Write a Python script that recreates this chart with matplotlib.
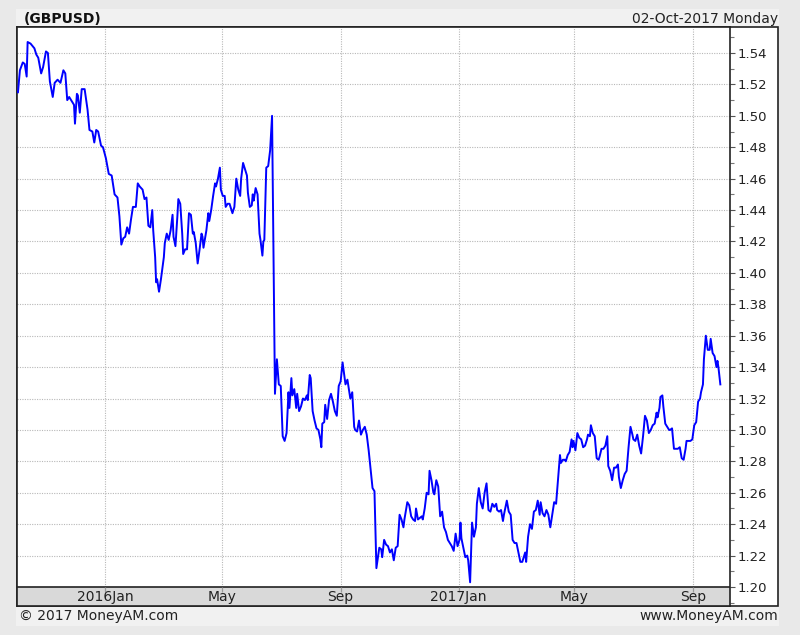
import pandas as pd
import matplotlib
matplotlib.use('Agg')
import matplotlib.pyplot as plt
import matplotlib.transforms as mtransforms
from matplotlib.patches import Rectangle
from matplotlib.ticker import MultipleLocator, FormatStrFormatter

#%% Data
dates = [
    '2015-10-03', '2015-10-05', '2015-10-08', '2015-10-10', '2015-10-12', '2015-10-13', '2015-10-16', '2015-10-20',
    '2015-10-22', '2015-10-24', '2015-10-27', '2015-10-29', '2015-11-01', '2015-11-03', '2015-11-05', '2015-11-08',
    '2015-11-10', '2015-11-13', '2015-11-16', '2015-11-19', '2015-11-21', '2015-11-23', '2015-11-25', '2015-11-28',
    '2015-11-30', '2015-12-01', '2015-12-03', '2015-12-04', '2015-12-06', '2015-12-08', '2015-12-11', '2015-12-14',
    '2015-12-16', '2015-12-19', '2015-12-21', '2015-12-23', '2015-12-25', '2015-12-28', '2015-12-30', '2016-01-02',
    '2016-01-05', '2016-01-08', '2016-01-11', '2016-01-14', '2016-01-16', '2016-01-18', '2016-01-20', '2016-01-22',
    '2016-01-24', '2016-01-26', '2016-01-28', '2016-01-30', '2016-02-02', '2016-02-04', '2016-02-06', '2016-02-09',
    '2016-02-11', '2016-02-13', '2016-02-15', '2016-02-17', '2016-02-19', '2016-02-20', '2016-02-22', '2016-02-23',
    '2016-02-24', '2016-02-26', '2016-02-28', '2016-03-02', '2016-03-03', '2016-03-05', '2016-03-07', '2016-03-09',
    '2016-03-11', '2016-03-12', '2016-03-14', '2016-03-16', '2016-03-17', '2016-03-19', '2016-03-21', '2016-03-22',
    '2016-03-24', '2016-03-26', '2016-03-28', '2016-03-30', '2016-04-01', '2016-04-02', '2016-04-04', '2016-04-06',
    '2016-04-08', '2016-04-10', '2016-04-11', '2016-04-12', '2016-04-15', '2016-04-17', '2016-04-18', '2016-04-20',
    '2016-04-22', '2016-04-24', '2016-04-25', '2016-04-27', '2016-04-29', '2016-04-30', '2016-05-02', '2016-05-04',
    '2016-05-05', '2016-05-07', '2016-05-09', '2016-05-12', '2016-05-14', '2016-05-16', '2016-05-18', '2016-05-20',
    '2016-05-21', '2016-05-23', '2016-05-25', '2016-05-27', '2016-05-28', '2016-05-30', '2016-06-01', '2016-06-02',
    '2016-06-03', '2016-06-05', '2016-06-07', '2016-06-09', '2016-06-10', '2016-06-12', '2016-06-13', '2016-06-14',
    '2016-06-16', '2016-06-18', '2016-06-20', '2016-06-22', '2016-06-25', '2016-06-27', '2016-06-29', '2016-07-01',
    '2016-07-03', '2016-07-05', '2016-07-07', '2016-07-09', '2016-07-10', '2016-07-12', '2016-07-13', '2016-07-15',
    '2016-07-17', '2016-07-18', '2016-07-20', '2016-07-22', '2016-07-24', '2016-07-26', '2016-07-28', '2016-07-29',
    '2016-07-31', '2016-08-01', '2016-08-03', '2016-08-05', '2016-08-07', '2016-08-09', '2016-08-11', '2016-08-12',
    '2016-08-13', '2016-08-15', '2016-08-16', '2016-08-18', '2016-08-20', '2016-08-22', '2016-08-24', '2016-08-26',
    '2016-08-28', '2016-08-30', '2016-09-01', '2016-09-03', '2016-09-05', '2016-09-06', '2016-09-08', '2016-09-11',
    '2016-09-13', '2016-09-15', '2016-09-16', '2016-09-18', '2016-09-20', '2016-09-22', '2016-09-24', '2016-09-26',
    '2016-09-28', '2016-09-30', '2016-10-02', '2016-10-04', '2016-10-06', '2016-10-08', '2016-10-11', '2016-10-13',
    '2016-10-14', '2016-10-16', '2016-10-18', '2016-10-20', '2016-10-22', '2016-10-24', '2016-10-26', '2016-10-28',
    '2016-10-30', '2016-11-01', '2016-11-03', '2016-11-05', '2016-11-06', '2016-11-09', '2016-11-11', '2016-11-13',
    '2016-11-15', '2016-11-17', '2016-11-18', '2016-11-20', '2016-11-22', '2016-11-24', '2016-11-25', '2016-11-27',
    '2016-11-29', '2016-12-01', '2016-12-02', '2016-12-04', '2016-12-06', '2016-12-07', '2016-12-09', '2016-12-11',
    '2016-12-13', '2016-12-15', '2016-12-17', '2016-12-19', '2016-12-21', '2016-12-23', '2016-12-25', '2016-12-27',
    '2016-12-29', '2016-12-31', '2017-01-02', '2017-01-03', '2017-01-04', '2017-01-06', '2017-01-08', '2017-01-10',
    '2017-01-11', '2017-01-13', '2017-01-15', '2017-01-17', '2017-01-19', '2017-01-20', '2017-01-22', '2017-01-24',
    '2017-01-26', '2017-01-28', '2017-01-30', '2017-02-01', '2017-02-03', '2017-02-05', '2017-02-07', '2017-02-09',
    '2017-02-10', '2017-02-12', '2017-02-14', '2017-02-16', '2017-02-17', '2017-02-20', '2017-02-22', '2017-02-24',
    '2017-02-26', '2017-02-28', '2017-03-02', '2017-03-04', '2017-03-06', '2017-03-08', '2017-03-11', '2017-03-12',
    '2017-03-14', '2017-03-16', '2017-03-18', '2017-03-20', '2017-03-22', '2017-03-24', '2017-03-26', '2017-03-27',
    '2017-03-29', '2017-03-31', '2017-04-02', '2017-04-04', '2017-04-06', '2017-04-08', '2017-04-10', '2017-04-12',
    '2017-04-16', '2017-04-17', '2017-04-19', '2017-04-21', '2017-04-22', '2017-04-24', '2017-04-26', '2017-04-28',
    '2017-04-29', '2017-04-30', '2017-05-02', '2017-05-04', '2017-05-06', '2017-05-08', '2017-05-10', '2017-05-12',
    '2017-05-14', '2017-05-15', '2017-05-17', '2017-05-18', '2017-05-20', '2017-05-22', '2017-05-24', '2017-05-26',
    '2017-05-27', '2017-05-29', '2017-05-31', '2017-06-02', '2017-06-04', '2017-06-05', '2017-06-07', '2017-06-09',
    '2017-06-11', '2017-06-13', '2017-06-15', '2017-06-16', '2017-06-18', '2017-06-20', '2017-06-22', '2017-06-24',
    '2017-06-26', '2017-06-28', '2017-06-30', '2017-07-01', '2017-07-03', '2017-07-05', '2017-07-07', '2017-07-09',
    '2017-07-11', '2017-07-13', '2017-07-15', '2017-07-17', '2017-07-19', '2017-07-21', '2017-07-23', '2017-07-25',
    '2017-07-26', '2017-07-28', '2017-07-29', '2017-07-31', '2017-08-01', '2017-08-03', '2017-08-05', '2017-08-07',
    '2017-08-08', '2017-08-10', '2017-08-12', '2017-08-14', '2017-08-16', '2017-08-18', '2017-08-20', '2017-08-22',
    '2017-08-24', '2017-08-25', '2017-08-27', '2017-08-29', '2017-08-31', '2017-09-02', '2017-09-04', '2017-09-06',
    '2017-09-08', '2017-09-09', '2017-09-11', '2017-09-12', '2017-09-14', '2017-09-16', '2017-09-18', '2017-09-19',
    '2017-09-21', '2017-09-23', '2017-09-25', '2017-09-26', '2017-09-27', '2017-09-29',
]

rates = [
    1.515, 1.529, 1.534, 1.533, 1.525, 1.547, 1.546, 1.543,
    1.539, 1.537, 1.527, 1.531, 1.541, 1.540, 1.522, 1.512,
    1.521, 1.523, 1.521, 1.529, 1.527, 1.510, 1.512, 1.509,
    1.507, 1.495, 1.514, 1.513, 1.502, 1.517, 1.517, 1.504,
    1.491, 1.490, 1.483, 1.491, 1.490, 1.481, 1.480, 1.473,
    1.463, 1.462, 1.450, 1.448, 1.436, 1.418, 1.422, 1.423,
    1.429, 1.425, 1.434, 1.442, 1.442, 1.457, 1.455, 1.453,
    1.447, 1.448, 1.430, 1.429, 1.440, 1.427, 1.410, 1.394,
    1.396, 1.388, 1.396, 1.410, 1.419, 1.425, 1.421, 1.427,
    1.437, 1.423, 1.417, 1.436, 1.447, 1.444, 1.425, 1.412,
    1.415, 1.415, 1.438, 1.437, 1.425, 1.426, 1.419, 1.406,
    1.415, 1.425, 1.423, 1.416, 1.427, 1.438, 1.433, 1.440,
    1.449, 1.457, 1.455, 1.460, 1.467, 1.453, 1.449, 1.449,
    1.442, 1.444, 1.444, 1.438, 1.442, 1.460, 1.453, 1.449,
    1.460, 1.470, 1.466, 1.462, 1.451, 1.442, 1.443, 1.450,
    1.446, 1.454, 1.450, 1.425, 1.421, 1.411, 1.420, 1.421,
    1.467, 1.468, 1.478, 1.500, 1.323, 1.345, 1.329, 1.328,
    1.296, 1.293, 1.298, 1.324, 1.314, 1.333, 1.322, 1.326,
    1.314, 1.323, 1.312, 1.315, 1.320, 1.319, 1.322, 1.319,
    1.335, 1.333, 1.312, 1.306, 1.301, 1.300, 1.294, 1.289,
    1.304, 1.305, 1.316, 1.307, 1.319, 1.323, 1.318, 1.312,
    1.309, 1.328, 1.331, 1.343, 1.334, 1.329, 1.332, 1.320,
    1.324, 1.302, 1.300, 1.299, 1.306, 1.297, 1.300, 1.302,
    1.297, 1.287, 1.275, 1.263, 1.261, 1.212, 1.225, 1.224,
    1.219, 1.230, 1.227, 1.226, 1.222, 1.224, 1.217, 1.225,
    1.226, 1.246, 1.243, 1.238, 1.243, 1.254, 1.252, 1.245,
    1.243, 1.242, 1.250, 1.243, 1.244, 1.245, 1.243, 1.250,
    1.260, 1.259, 1.274, 1.268, 1.260, 1.259, 1.268, 1.264,
    1.245, 1.248, 1.238, 1.235, 1.230, 1.228, 1.226, 1.223,
    1.234, 1.226, 1.230, 1.241, 1.231, 1.225, 1.219, 1.220,
    1.217, 1.203, 1.241, 1.232, 1.238, 1.253, 1.263, 1.254,
    1.250, 1.260, 1.266, 1.249, 1.248, 1.253, 1.251, 1.253,
    1.249, 1.248, 1.249, 1.242, 1.246, 1.255, 1.248, 1.246,
    1.230, 1.228, 1.228, 1.222, 1.216, 1.216, 1.222, 1.216,
    1.232, 1.240, 1.237, 1.248, 1.249, 1.255, 1.246, 1.254,
    1.247, 1.245, 1.249, 1.246, 1.238, 1.246, 1.254, 1.253,
    1.284, 1.279, 1.281, 1.281, 1.280, 1.284, 1.286, 1.294,
    1.289, 1.293, 1.287, 1.298, 1.295, 1.294, 1.289, 1.290,
    1.294, 1.297, 1.296, 1.303, 1.298, 1.296, 1.282, 1.281,
    1.283, 1.288, 1.288, 1.290, 1.296, 1.277, 1.274, 1.268,
    1.276, 1.276, 1.278, 1.270, 1.263, 1.268, 1.272, 1.274,
    1.289, 1.302, 1.297, 1.294, 1.293, 1.297, 1.290, 1.285,
    1.296, 1.309, 1.306, 1.298, 1.300, 1.303, 1.304, 1.311,
    1.308, 1.314, 1.321, 1.322, 1.315, 1.304, 1.302, 1.300,
    1.300, 1.301, 1.288, 1.288, 1.288, 1.289, 1.282, 1.281,
    1.288, 1.293, 1.293, 1.293, 1.294, 1.303, 1.305, 1.318,
    1.320, 1.324, 1.329, 1.345, 1.360, 1.351, 1.351, 1.358,
    1.349, 1.347, 1.340, 1.344, 1.340, 1.329,
]

tick_dates = ['2016-01-01', '2016-05-01', '2016-09-01', '2017-01-01', '2017-05-01', '2017-09-01']
tick_labels = ['2016Jan', 'May', 'Sep', '2017Jan', 'May', 'Sep']

title = '(GBPUSD)'
date_text = '02-Oct-2017 Monday'
footer_left = '\u00a9 2017 MoneyAM.com'
footer_right = 'www.MoneyAM.com'

#%% Layout helpers (pixel -> figure fraction)
W, H = 800, 635
def fx(px):
    return px / W
def fy(py):
    return 1 - py / H

# y scale: 1.20 at 587 px, 1.54 at 53 px
ppu = (587 - 53) / 0.34
y_bot = 1.20 - (606 - 587) / ppu
y_top = 1.54 + (53 - 27) / ppu

grid_color = '#b8b8b8'
grid_style = (0, (1, 1.2))

#%% Figure
fig = plt.figure(figsize=(8, 6.35), dpi=100, facecolor='#e9e9e9')
fig.patches.append(Rectangle((fx(16), fy(626)), fx(779) - fx(16), fy(9) - fy(626),
                             transform=fig.transFigure, facecolor='#f1f1f1',
                             edgecolor='none', zorder=-3))
fig.patches.append(Rectangle((fx(17), fy(606)), fx(778) - fx(17), fy(27) - fy(606),
                             transform=fig.transFigure, facecolor='white',
                             edgecolor='#222222', linewidth=1.2, zorder=-2))

ax = fig.add_axes([fx(17), fy(606), fx(730) - fx(17), fy(27) - fy(606)])
ax.set_facecolor('white')

x = pd.to_datetime(dates)
xt = pd.to_datetime(tick_dates)

# Price line
ax.plot(x, rates, color='#0000ff', linewidth=1.4, zorder=4)

ax.set_xlim(pd.Timestamp('2015-10-02'), pd.Timestamp('2017-10-09'))
ax.set_ylim(y_bot, y_top)

# Date strip at the bottom
blend = mtransforms.blended_transform_factory(ax.transAxes, ax.transData)
ax.add_patch(Rectangle((0, y_bot), 1, 1.20 - y_bot, transform=blend,
                       facecolor='#d9d9d9', edgecolor='none', zorder=2))
ax.axhline(1.20, color='#222222', linewidth=1.2, zorder=3)

# Grid
ax.vlines(xt, 1.20, y_top, colors=grid_color, linestyles=grid_style, linewidth=0.8, zorder=1)
ax.vlines(xt, 1.1965, 1.20, colors='#9a9a9a', linewidth=0.9, zorder=3)
ax.yaxis.set_major_locator(MultipleLocator(0.02))
ax.yaxis.set_minor_locator(MultipleLocator(0.01))
ax.yaxis.set_major_formatter(FormatStrFormatter('%.2f'))
ax.grid(axis='y', which='major', color=grid_color, linestyle=grid_style, linewidth=0.8)
ax.set_axisbelow(True)

for d, lab in zip(xt, tick_labels):
    ax.text(d, 1.20 - 10 / ppu, lab, ha='center', va='center', fontsize=10, color='#222222', zorder=5)

# Axis ticks
ax.set_xticks([])
ax.yaxis.tick_right()
ax.tick_params(axis='y', which='major', length=3.6, width=0.8, color='#555555',
               pad=2, labelsize=9.5, labelcolor='#222222')
ax.tick_params(axis='y', which='minor', length=2.8, width=0.8, color='#777777')
for side in ['left', 'right', 'top', 'bottom']:
    ax.spines[side].set_color('#222222')
    ax.spines[side].set_linewidth(1.2)

# Header and footer texts
fig.text(fx(24), fy(19), title, fontsize=10, fontweight='bold', va='center', color='#111111')
fig.text(fx(778), fy(19), date_text, fontsize=10, ha='right', va='center', color='#222222')
fig.text(fx(19), fy(616), footer_left, fontsize=10, va='center', color='#222222')
fig.text(fx(778), fy(616), footer_right, fontsize=10, ha='right', va='center', color='#222222')

plt.savefig('out.png', dpi=100, facecolor=fig.get_facecolor())
